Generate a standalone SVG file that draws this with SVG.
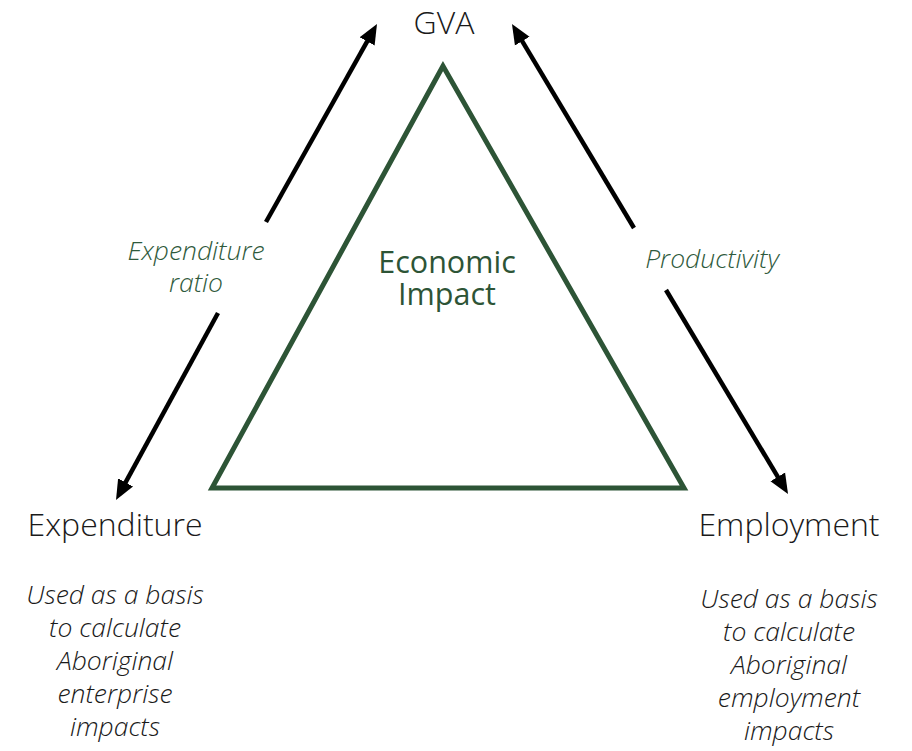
<svg xmlns="http://www.w3.org/2000/svg" width="912" height="751" viewBox="0 0 912 751">
  <style>
    .label { font-family: "Open Sans", "Liberation Sans", sans-serif; font-weight: 300; fill: #1a1a1a; text-anchor: middle; }
    .head { font-size: 32px; }
    .note { font-size: 26.5px; font-style: italic; }
    .rel { font-family: "Open Sans", "Liberation Sans", sans-serif; font-weight: 300; font-style: italic; font-size: 26.5px; fill: #2f5a3c; text-anchor: middle; }
    .core { font-family: "Open Sans", "Liberation Sans", sans-serif; font-weight: 400; font-size: 30.5px; fill: #2d5436; text-anchor: middle; }
    .conn { stroke: #000; stroke-width: 4.5; fill: none; marker-end: url(#arrow); }
  </style>
  <defs>
    <marker id="arrow" markerUnits="userSpaceOnUse" viewBox="0 -9 20 18" markerWidth="20" markerHeight="18" refX="10" refY="0" orient="auto">
      <path d="M0,-8.5 L20,0 L0,8.5 Z" fill="#000"/>
    </marker>
  </defs>

  <!-- central triangle -->
  <g id="economic-impact">
    <polygon points="443,66 212,488 684,488" fill="none" stroke="#2d5436" stroke-width="5" stroke-linejoin="miter"/>
    <text class="core" x="447" y="273">Economic</text>
    <text class="core" x="447" y="305">Impact</text>
  </g>

  <!-- connectors -->
  <g id="connectors">
    <line class="conn" x1="266" y1="222" x2="372.1" y2="32.7"/>
    <line class="conn" x1="218" y1="313" x2="120.8" y2="491.2"/>
    <line class="conn" x1="634" y1="228" x2="517.1" y2="32.6"/>
    <line class="conn" x1="666" y1="290" x2="782.9" y2="485.4"/>
    <text class="rel" x="196" y="260">Expenditure</text>
    <text class="rel" x="196" y="292">ratio</text>
    <text class="rel" x="712" y="268">Productivity</text>
  </g>

  <g id="gva">
    <text class="label head" x="444" y="34">GVA</text>
  </g>

  <g id="expenditure">
    <text class="label head" x="115" y="536">Expenditure</text>
    <text class="label note" x="115" y="604">Used as a basis</text>
    <text class="label note" x="115" y="637">to calculate</text>
    <text class="label note" x="115" y="670">Aboriginal</text>
    <text class="label note" x="115" y="703">enterprise</text>
    <text class="label note" x="115" y="736">impacts</text>
  </g>

  <g id="employment">
    <text class="label head" x="789" y="536">Employment</text>
    <text class="label note" x="789" y="608">Used as a basis</text>
    <text class="label note" x="789" y="641">to calculate</text>
    <text class="label note" x="789" y="674">Aboriginal</text>
    <text class="label note" x="789" y="707">employment</text>
    <text class="label note" x="789" y="740">impacts</text>
  </g>
</svg>
